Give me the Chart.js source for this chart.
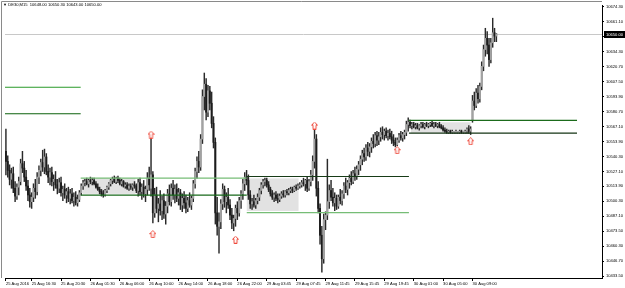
<!DOCTYPE html>
<html>
<head>
<meta charset="utf-8">
<title>DE30,M15</title>
<script src="https://cdn.jsdelivr.net/npm/chart.js@4.4.1/dist/chart.umd.min.js"></script>
<style>
  html, body { margin: 0; padding: 0; background: #fff; }
  canvas { display: block; }
</style>
</head>
<body>
<canvas id="chart" width="625" height="288"></canvas>
<script>
// ── Data ────────────────────────────────────────────────────────────────────

const symbol = "DE30,M15";

const opens = [
  10545,10536,10528,10520,10525,10512,10505,10513,10518,10534,
  10530,10522,10514,10506,10500,10504,10512,10509,10522,10528,
  10535,10531,10540,10527,10522,10526,10518,10520,10515,10512,
  10517,10508,10511,10506,10509,10503,10507,10501,10504,10499,
  10502,10508,10514,10517,10518,10516,10519,10518,10519,10516,
  10513,10511,10509,10507,10506,10510,10513,10516,10519,10520,
  10518,10521,10519,10516,10518,10514,10515,10512,10514,10513,
  10515,10514,10510,10517,10509,10513,10507,10511,10521,10512,
  10524,10490,10506,10494,10498,10492,10501,10489,10496,10507,
  10500,10512,10506,10511,10503,10508,10497,10503,10499,10494,
  10501,10497,10503,10516,10527,10536,10531,10556,10594,10605,
  10580,10599,10588,10570,10553,10490,10478,10482,10498,10511,
  10500,10504,10497,10488,10481,10485,10494,10490,10501,10507,
  10516,10522,10519,10506,10498,10500,10497,10501,10504,10510,
  10515,10518,10519,10515,10511,10507,10504,10506,10503,10502,
  10505,10507,10506,10509,10508,10510,10511,10510,10513,10512,
  10514,10515,10517,10516,10519,10512,10518,10524,10536,10556,
  10512,10494,10470,10449,10484,10488,10500,10510,10504,10499,
  10503,10496,10504,10501,10507,10514,10511,10517,10521,10518,
  10525,10523,10529,10533,10538,10543,10540,10548,10545,10549,
  10554,10552,10559,10555,10558,10562,10560,10563,10559,10561,
  10558,10555,10553,10551,10555,10559,10557,10560,10562,10569,
  10571,10568,10569,10567,10568,10566,10568,10569,10567,10569,
  10568,10569,10570,10568,10569,10568,10569,10567,10566,10564,
  10563,10562,10563,10562,10562,10562,10562,10562,10563,10562,
  10562,10563,10565,10563,10573,10590,10586,10597,10592,10603,
  10621,10636,10646,10640,10627,10642,10651,10648
];

const highs = [
  10565,10541,10533,10530,10531,10518,10516,10522,10538,10545,
  10536,10528,10519,10512,10508,10516,10520,10526,10532,10538,
  10546,10547,10543,10533,10530,10531,10524,10527,10520,10521,
  10522,10514,10516,10512,10513,10511,10512,10508,10509,10506,
  10510,10516,10519,10520,10521,10520,10522,10521,10521,10518,
  10516,10513,10511,10510,10511,10514,10517,10520,10522,10523,
  10522,10523,10521,10520,10519,10517,10517,10516,10516,10516,
  10518,10516,10520,10521,10516,10519,10514,10526,10531,10557,
  10527,10512,10513,10503,10510,10505,10507,10500,10511,10515,
  10516,10519,10515,10516,10512,10511,10507,10509,10506,10504,
  10508,10505,10519,10530,10540,10545,10560,10600,10615,10610,
  10604,10603,10598,10576,10557,10504,10490,10502,10516,10514,
  10508,10512,10502,10494,10488,10497,10500,10504,10510,10520,
  10526,10528,10524,10510,10503,10506,10503,10507,10512,10517,
  10520,10521,10521,10518,10513,10510,10508,10509,10507,10507,
  10509,10510,10510,10511,10512,10513,10513,10514,10515,10516,
  10517,10519,10521,10520,10522,10520,10528,10541,10564,10560,
  10518,10498,10478,10489,10491,10538,10515,10519,10512,10508,
  10506,10506,10511,10510,10517,10521,10519,10524,10527,10528,
  10531,10532,10536,10541,10546,10548,10551,10553,10552,10557,
  10560,10562,10563,10562,10566,10567,10565,10566,10564,10565,
  10563,10560,10557,10557,10561,10563,10562,10564,10572,10575,
  10573,10571,10571,10570,10570,10569,10571,10571,10570,10571,
  10570,10571,10572,10571,10571,10570,10571,10569,10568,10566,
  10565,10564,10564,10564,10563,10564,10563,10564,10564,10563,
  10564,10566,10568,10567,10595,10598,10601,10604,10606,10625,
  10640,10655,10652,10646,10646,10664,10655,10650.3
];

const lows = [
  10524,10522,10515,10512,10508,10500,10502,10506,10515,10526,
  10518,10510,10501,10495,10494,10500,10503,10506,10516,10523,
  10527,10525,10524,10517,10515,10514,10510,10512,10507,10508,
  10505,10501,10503,10499,10500,10498,10499,10496,10497,10496,
  10500,10506,10511,10514,10515,10513,10516,10515,10515,10512,
  10510,10507,10505,10504,10505,10508,10511,10514,10516,10517,
  10516,10517,10515,10514,10513,10512,10511,10510,10511,10510,
  10512,10508,10505,10506,10502,10504,10500,10506,10510,10505,
  10481,10486,10490,10482,10488,10484,10485,10480,10490,10497,
  10496,10502,10499,10500,10497,10493,10491,10494,10490,10491,
  10495,10493,10500,10512,10521,10526,10528,10552,10582,10573,
  10576,10582,10566,10548,10480,10470,10454,10476,10493,10495,
  10490,10494,10484,10476,10474,10478,10484,10487,10494,10502,
  10510,10515,10502,10494,10493,10495,10494,10498,10501,10507,
  10512,10514,10513,10509,10505,10502,10500,10501,10499,10500,
  10503,10504,10504,10506,10506,10508,10508,10509,10510,10511,
  10512,10513,10514,10510,10509,10510,10514,10519,10530,10505,
  10490,10462,10437,10445,10475,10484,10494,10501,10496,10492,
  10493,10494,10498,10497,10503,10508,10506,10512,10515,10516,
  10519,10520,10524,10528,10533,10536,10537,10541,10540,10544,
  10548,10549,10550,10551,10554,10556,10555,10557,10555,10556,
  10552,10550,10549,10550,10553,10555,10554,10556,10559,10563,
  10566,10565,10566,10565,10565,10564,10566,10566,10565,10567,
  10566,10567,10567,10566,10567,10566,10566,10565,10563,10562,
  10561,10561,10561,10561,10561,10561,10561,10561,10561,10561,
  10561,10561,10561,10560,10571,10582,10584,10588,10589,10600,
  10617,10630,10632,10621,10624,10638,10643,10643
];

const closes = [
  10536,10528,10520,10525,10512,10505,10513,10518,10534,10530,
  10522,10514,10506,10500,10504,10512,10509,10522,10528,10535,
  10531,10540,10527,10522,10526,10518,10520,10515,10512,10517,
  10508,10511,10506,10509,10503,10507,10501,10504,10499,10502,
  10508,10514,10517,10518,10516,10519,10518,10519,10516,10513,
  10511,10509,10507,10506,10510,10513,10516,10519,10520,10518,
  10521,10519,10516,10518,10514,10515,10512,10514,10513,10515,
  10514,10510,10517,10509,10513,10507,10511,10521,10515,10524,
  10490,10506,10494,10498,10492,10501,10489,10496,10507,10500,
  10512,10506,10511,10503,10508,10497,10503,10499,10494,10501,
  10497,10503,10516,10527,10536,10531,10556,10594,10605,10580,
  10599,10588,10570,10553,10490,10478,10482,10498,10511,10500,
  10504,10497,10488,10481,10485,10494,10490,10501,10507,10516,
  10522,10519,10506,10498,10500,10497,10501,10504,10510,10515,
  10518,10519,10515,10511,10507,10504,10506,10503,10502,10505,
  10507,10506,10509,10508,10510,10511,10510,10513,10512,10514,
  10515,10517,10516,10519,10512,10518,10524,10536,10556,10512,
  10494,10470,10449,10484,10488,10500,10510,10504,10499,10503,
  10496,10504,10501,10507,10514,10511,10517,10521,10518,10525,
  10523,10529,10533,10538,10543,10540,10548,10545,10549,10554,
  10552,10559,10555,10558,10562,10560,10563,10559,10561,10558,
  10555,10553,10551,10555,10559,10557,10560,10562,10569,10571,
  10568,10569,10567,10568,10566,10568,10569,10567,10569,10568,
  10569,10570,10568,10569,10568,10569,10567,10566,10564,10563,
  10562,10563,10562,10562,10562,10563,10562,10563,10562,10562,
  10563,10565,10563,10565,10590,10586,10597,10592,10603,10621,
  10636,10646,10640,10627,10642,10651,10648,10650
];

// time axis: first label, then one every 16 bars
const timeLabels = [
  "25 Aug 2016", "25 Aug 16:30", "25 Aug 20:30", "26 Aug 01:30", "26 Aug 06:00",
  "26 Aug 10:00", "26 Aug 14:00", "26 Aug 18:00", "26 Aug 22:00", "29 Aug 03:45",
  "29 Aug 07:45", "29 Aug 11:45", "29 Aug 15:45", "29 Aug 19:45", "30 Aug 01:00",
  "30 Aug 05:00", "30 Aug 09:00"
];

const priceTicks = [
  10674.30, 10661.10, 10647.50, 10634.30, 10620.70, 10607.50, 10593.90,
  10580.70, 10567.10, 10553.90, 10540.30, 10527.10, 10513.90, 10500.30,
  10487.10, 10473.50, 10460.30, 10446.70, 10433.50
];

// signal arrows (bar index, price)
const arrowIdx   = [79, 80, 125, 168, 213, 253];
const arrowPrice = [10560, 10471, 10466, 10568, 10546, 10554];

// horizontal levels (bar index from / to, price)
const levelFrom  = [-0.5, -0.5, 40.7, 40.7, 131.1, 131.1, 219.4, 219.4];
const levelTo    = [40.7, 40.7, 131.1, 131.1, 219.4, 219.4, 310.9, 310.9];
const levelPrice = [10602.3, 10578.6, 10521.0, 10505.8, 10522.5, 10490.2, 10572.7, 10561.3];
const levelColor = ["#2a9a2a", "#0d620d", "#76bd76", "#17691a", "#173b17", "#76bd76", "#1b6b1b", "#143414"];

// shaded ranges (bar index from / to, price top / bottom)
const boxFrom   = [41.8, 131.1, 220.5];
const boxTo     = [70.5, 159.3, 253.0];
const boxTop    = [10521.0, 10520.8, 10571.0];
const boxBottom = [10507.0, 10491.7, 10561.3];

// ── Setup ───────────────────────────────────────────────────────────────────

const TOTAL_SLOTS = 325;      // bars + empty right shift
const FONT = { family: "'Liberation Sans', 'DejaVu Sans', sans-serif", size: 4.1 };
const FONT_CSS = "4.1px 'Liberation Sans', 'DejaVu Sans', sans-serif";

const catLabels = [];
for (let i = 0; i < TOTAL_SLOTS; i++) {
  let lab = "";
  if (i === 0) lab = timeLabels[0];
  else if (i >= 14 && (i - 14) % 16 === 0) lab = timeLabels[1 + (i - 14) / 16] || "";
  catLabels.push(lab);
}

const last = closes.length - 1;

// small outlined up-arrow used as point style
function makeArrow() {
  const c = document.createElement("canvas");
  c.width = 7; c.height = 8;
  const g = c.getContext("2d");
  g.beginPath();
  g.moveTo(3.5, 0.5);
  g.lineTo(6.5, 3.5);
  g.lineTo(5, 3.5);
  g.lineTo(5, 7.5);
  g.lineTo(2, 7.5);
  g.lineTo(2, 3.5);
  g.lineTo(0.5, 3.5);
  g.closePath();
  g.fillStyle = "#fff";
  g.fill();
  g.strokeStyle = "#ee4a3c";
  g.lineWidth = 1;
  g.stroke();
  return c;
}

const overlay = {
  id: "overlay",
  beforeDatasetsDraw(chart) {
    const { ctx, chartArea: a, scales: { xl, y } } = chart;
    ctx.save();
    // shaded ranges
    ctx.fillStyle = "#e2e2e2";
    boxFrom.forEach((f, k) => {
      const x0 = xl.getPixelForValue(f), x1 = xl.getPixelForValue(boxTo[k]);
      const y0 = y.getPixelForValue(boxTop[k]), y1 = y.getPixelForValue(boxBottom[k]);
      ctx.fillRect(x0, y0, x1 - x0, y1 - y0);
    });
    // current price line
    const py = Math.round(y.getPixelForValue(closes[last])) + 0.5;
    ctx.strokeStyle = "#c8c8c8";
    ctx.lineWidth = 1;
    ctx.beginPath();
    ctx.moveTo(a.left, py);
    ctx.lineTo(a.right, py);
    ctx.stroke();
    ctx.restore();
  },
  afterDraw(chart) {
    const { ctx, chartArea: a, scales: { y } } = chart;
    ctx.save();
    // frame
    ctx.strokeStyle = "#8a8a8a";
    ctx.lineWidth = 1;
    ctx.beginPath();
    ctx.moveTo(1.5, a.bottom);
    ctx.lineTo(1.5, 1.5);
    ctx.lineTo(a.right, 1.5);
    ctx.stroke();

    // header
    ctx.font = FONT_CSS;
    ctx.fillStyle = "#000";
    ctx.textBaseline = "middle";
    ctx.textAlign = "left";
    const head = "\u25BC " + symbol + "  " + [opens[last], highs[last], lows[last], closes[last]]
      .map(v => v.toFixed(2)).join(" ");
    ctx.fillText(head, 3, 5);

    // current price tag
    const py = Math.round(y.getPixelForValue(closes[last])) + 0.5;
    ctx.fillStyle = "#000";
    ctx.fillRect(a.right + 2, py - 3.5, 625 - a.right - 2, 7);
    ctx.fillStyle = "#fff";
    ctx.fillText(closes[last].toFixed(2), a.right + 4, py + 0.3);
    ctx.restore();
  }
};

// ── Chart ───────────────────────────────────────────────────────────────────

const datasets = [
  {
    type: "scatter",
    label: "signals",
    xAxisID: "xl",
    yAxisID: "y",
    data: arrowIdx.map((x, k) => ({ x, y: arrowPrice[k] })),
    pointStyle: makeArrow(),
    order: 0,
  },
  ...levelPrice.map((p, k) => ({
    type: "line",
    label: "level" + k,
    xAxisID: "xl",
    yAxisID: "y",
    data: [{ x: levelFrom[k], y: p }, { x: levelTo[k], y: p }],
    borderColor: levelColor[k],
    borderWidth: 1.2,
    pointRadius: 0,
    fill: false,
    order: 1,
  })),
  {
    type: "bar",
    label: "body",
    xAxisID: "x",
    yAxisID: "y",
    data: opens.map((o, i) => [o, closes[i]]),
    backgroundColor: opens.map((o, i) => closes[i] >= o ? "#a2a2a2" : "#1c1c1c"),
    barThickness: 1.3,
    minBarLength: 1,
    grouped: false,
    order: 2,
  },
  {
    type: "bar",
    label: "wick",
    xAxisID: "x",
    yAxisID: "y",
    data: lows.map((l, i) => [l, highs[i]]),
    backgroundColor: "#2a2a2a",
    barThickness: 0.8,
    grouped: false,
    order: 3,
  },
];

new Chart(document.getElementById("chart"), {
  type: "bar",
  data: { labels: catLabels, datasets },
  plugins: [overlay],
  options: {
    responsive: false,
    animation: false,
    events: [],
    layout: { padding: { left: 2, top: 1, right: 0, bottom: 0 } },
    plugins: { legend: { display: false }, tooltip: { enabled: false } },
    scales: {
      x: {
        type: "category",
        offset: true,
        afterFit: s => { s.height = 10; },
        grid: {
          drawOnChartArea: false,
          offset: false,
          tickLength: 3,
          color: c => (c.tick && c.tick.label ? "#000" : "rgba(0,0,0,0)"),
        },
        border: { color: "#000", width: 1 },
        ticks: {
          autoSkip: false,
          maxRotation: 0,
          minRotation: 0,
          align: "start",
          padding: 0,
          color: "#000",
          font: FONT,
        },
      },
      xl: {
        type: "linear",
        display: false,
        offset: false,
        grid: { offset: false },
        min: -0.5,
        max: TOTAL_SLOTS - 0.5,
      },
      y: {
        position: "right",
        min: 10431.8,
        max: 10675.8,
        afterBuildTicks: s => { s.ticks = priceTicks.map(v => ({ value: v })); },
        afterFit: s => { s.width = 23; },
        grid: { drawOnChartArea: false, tickLength: 2, color: "#000" },
        border: { color: "#000", width: 1 },
        ticks: {
          padding: 2,
          color: "#000",
          font: FONT,
          callback: v => Number(v).toFixed(2),
        },
      },
    },
  },
});
</script>
</body>
</html>
